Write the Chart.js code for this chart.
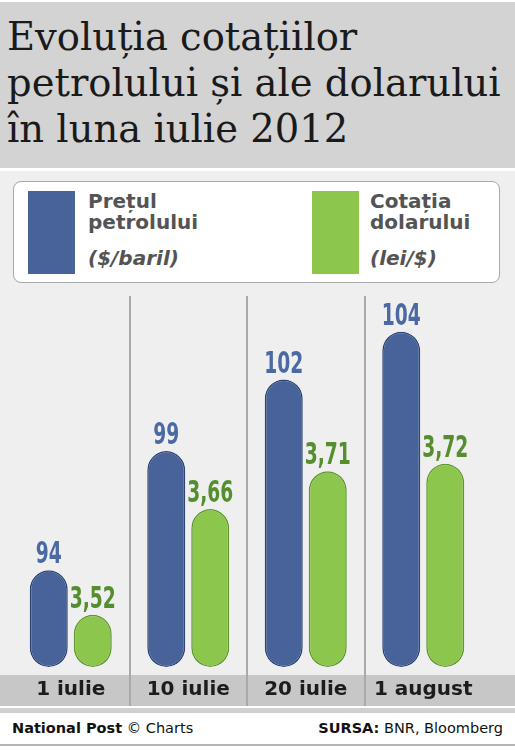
<!DOCTYPE html>
<html>
<head>
<meta charset="utf-8">
<script src="https://cdn.jsdelivr.net/npm/chart.js@4.4.1/dist/chart.umd.min.js"></script>
<style>
  html,body{margin:0;padding:0;}
  body{width:515px;height:750px;position:relative;background:#fff;overflow:hidden;font-family:"DejaVu Sans",Verdana,sans-serif;}
  #head{position:absolute;left:0;top:2px;width:515px;height:166px;background:#d3d3d3;}
  #title{position:absolute;left:7px;top:14px;font-family:"DejaVu Serif",Georgia,serif;font-size:38.5px;line-height:46px;color:#1a1a1a;white-space:nowrap;}
  #body{position:absolute;left:0;top:171px;width:515px;height:535px;background:#efefef;}
  #legend{position:absolute;left:13px;top:181px;width:485px;height:100px;background:#fff;border:1.5px solid #a9a9a9;border-radius:8px;}
  .sw{position:absolute;top:9px;width:47px;height:83px;}
  .lt{position:absolute;top:9px;font-weight:bold;font-size:20px;line-height:21px;color:#545454;white-space:nowrap;}
  .lt i{display:block;margin-top:15px;}
  #cv{position:absolute;left:0;top:290px;}
  #line1{position:absolute;left:0;top:708px;width:515px;height:5px;background:#d0d0d0;}
  #foot{position:absolute;left:0;top:713px;width:515px;height:31px;background:#fff;border-bottom:2px solid #b5b5b5;font-size:14.5px;color:#111;}
  #foot span{position:absolute;top:7px;white-space:nowrap;}
</style>
</head>
<body>
<div id="head"></div>
<div id="title">Evoluția cotațiilor<br>petrolului și ale dolarului<br>în luna iulie 2012</div>
<div id="body"></div>
<div id="legend">
  <div class="sw" style="left:14px;background:#47639a;"></div>
  <div class="lt" style="left:74px;">Prețul<br>petrolului<i>($/baril)</i></div>
  <div class="sw" style="left:298px;background:#8dc64c;"></div>
  <div class="lt" style="left:356px;">Cotația<br>dolarului<i>(lei/$)</i></div>
</div>
<canvas id="cv" width="515" height="420"></canvas>
<div id="line1"></div>
<div id="foot">
  <span style="left:12px;"><b>National Post</b> © Charts</span>
  <span style="right:12px;"><b>SURSA:</b> BNR, Bloomberg</span>
</div>
<script>
// date
const categories = ['1 iulie', '10 iulie', '20 iulie', '1 august'];
const oilPrice = [94, 99, 102, 104];        // $/baril
const usdRate = [3.52, 3.66, 3.71, 3.72];   // lei/$
const oilLabels = oilPrice.map(v => String(v));
const usdLabels = usdRate.map(v => v.toFixed(2).replace('.', ','));

// axele nu pornesc de la zero (ca in original)
const oilMin = 89.95, oilMax = 105.5;
const usdMin = 3.451, usdMax = 3.942;

const blue = '#47639a', blueDark = '#2d4574', blueText = '#4b6aa4';
const green = '#8dc64c', greenDark = '#5e9630', greenText = '#548e2e';

// banda gri cu etichetele de dedesubt
const bandPlugin = {
  id: 'band',
  beforeDraw(chart){
    const ctx = chart.ctx, a = chart.chartArea;
    ctx.save();
    ctx.fillStyle = '#c7c7c7';
    ctx.fillRect(0, a.bottom + 8, chart.width, 31);
    ctx.restore();
  }
};

// valorile deasupra barelor (font ingust, inalt)
const valuePlugin = {
  id: 'values',
  afterDatasetsDraw(chart){
    const ctx = chart.ctx;
    ctx.save();
    ctx.font = 'bold 30px "Liberation Sans Narrow", "DejaVu Sans Condensed", sans-serif';
    const sx = 39 / ctx.measureText('104').width;
    ctx.textAlign = 'center';
    ctx.textBaseline = 'alphabetic';
    chart.data.datasets.forEach((ds, i) => {
      const meta = chart.getDatasetMeta(i);
      const labels = i == 0 ? oilLabels : usdLabels;
      ctx.fillStyle = i == 0 ? blueText : greenText;
      meta.data.forEach((bar, j) => {
        ctx.save();
        ctx.translate(bar.x, bar.y - 7);
        ctx.scale(sx, 1);
        ctx.fillText(labels[j], 0, 0);
        ctx.restore();
      });
    });
    ctx.restore();
  }
};

new Chart(document.getElementById('cv').getContext('2d'), {
  type: 'bar',
  data: {
    labels: categories,
    datasets: [{
      label: 'Prețul petrolului ($/baril)',
      data: oilPrice,
      yAxisID: 'y',
      base: oilMin,
      backgroundColor: blue,
      borderColor: blueDark,
      borderWidth: 1.5,
      borderRadius: 19,
      borderSkipped: false
    }, {
      label: 'Cotația dolarului (lei/$)',
      data: usdRate,
      yAxisID: 'y1',
      base: usdMin,
      backgroundColor: green,
      borderColor: greenDark,
      borderWidth: 1.5,
      borderRadius: 19,
      borderSkipped: false
    }]
  },
  options: {
    responsive: false,
    animation: false,
    devicePixelRatio: 1,
    categoryPercentage: 0.749,
    barPercentage: 0.864,
    layout: { padding: { left: 12, right: 33, top: 6, bottom: 0 } },
    scales: {
      x: {
        border: { display: false },
        grid: {
          offset: true,
          drawTicks: true,
          tickLength: 39,
          lineWidth: 2,
          color: c => (c.type !== 'tick' || c.index === 0) ? 'rgba(0,0,0,0)' : '#a9a9a9'
        },
        ticks: {
          padding: -28,
          color: '#1c1c1c',
          font: { family: '"DejaVu Sans", Verdana, sans-serif', size: 20, weight: 'bold' }
        },
        afterFit: s => { s.height = 43; }
      },
      y: { display: false, min: oilMin, max: oilMax },
      y1: { display: false, min: usdMin, max: usdMax }
    },
    plugins: {
      legend: { display: false },
      tooltip: { enabled: false },
      title: { display: false }
    }
  },
  plugins: [bandPlugin, valuePlugin]
});
</script>
</body>
</html>
